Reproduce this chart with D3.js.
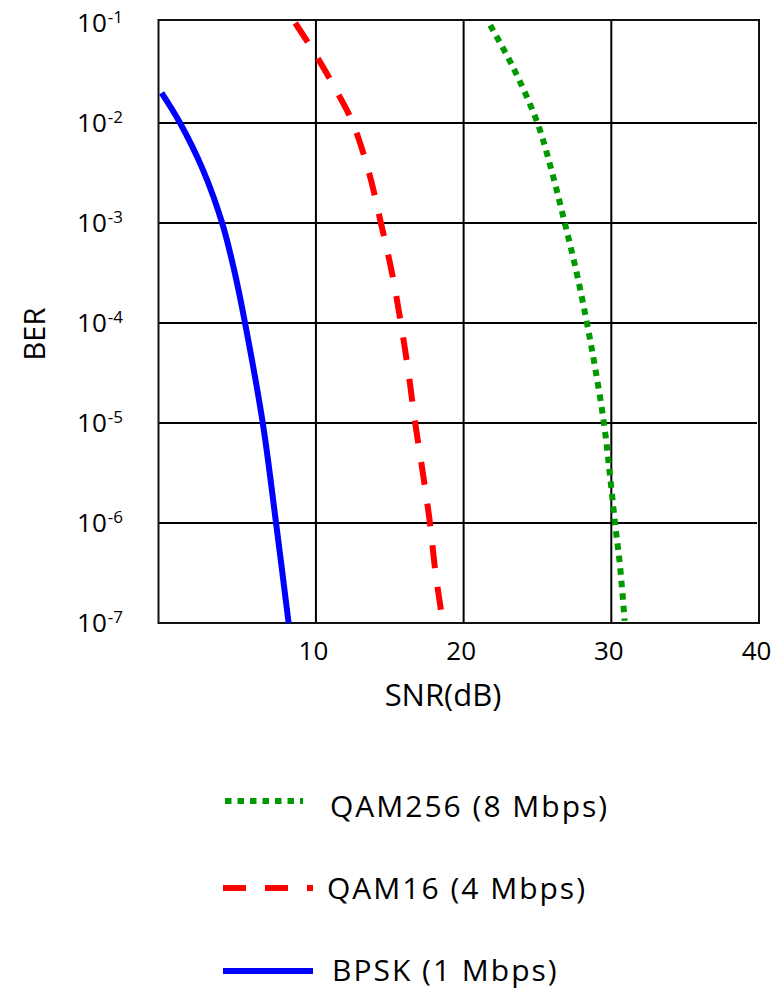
<!DOCTYPE html>
<html>
<head>
<meta charset="utf-8">
<script src="https://cdn.jsdelivr.net/npm/d3@7"></script>
<style>
  html, body { margin: 0; padding: 0; background: #fff; }
  svg { display: block; font-family: "Open Sans", "Noto Sans", sans-serif; }
</style>
</head>
<body>
<svg id="chart" width="784" height="990"></svg>
<script>
// ---- data ----
const snrTicks = [10, 20, 30, 40];
const berTicks = [1e-1, 1e-2, 1e-3, 1e-4, 1e-5, 1e-6, 1e-7];
const berExponents = ["-1", "-2", "-3", "-4", "-5", "-6", "-7"];
const gridBer = [1e-2, 1e-3, 1e-4, 1e-5, 1e-6];
const gridSnr = [10, 20, 30];

const seriesNames = ["QAM256 (8 Mbps)", "QAM16 (4 Mbps)", "BPSK (1 Mbps)"];

const bpskSnr = [-0.45, 0.8, 2.35, 3.65, 4.5, 5.2, 6.4, 7.3, 8.15];
const bpskBer = [2e-2, 1e-2, 3.4e-3, 1e-3, 3.2e-4, 1e-4, 1e-5, 1e-6, 1e-7];

const qam16Snr = [8.6, 10.1, 11.55, 12.5, 13.6, 14.4, 15.15, 15.75, 16.27, 16.72, 17.24, 17.72, 18.1, 18.6];
const qam16Ber = [0.1, 0.045, 0.019, 1e-2, 3.16e-3, 1e-3, 3.16e-4, 1e-4, 3.16e-5, 1e-5, 3.16e-6, 1e-6, 3.16e-7, 1e-7];

const qam256Snr = [21.8, 23.35, 25.0, 26.0, 26.85, 27.65, 28.35, 28.9, 29.5, 29.9, 30.25, 30.6, 30.9];
const qam256Ber = [0.095, 0.036, 1e-2, 3.16e-3, 1e-3, 3.2e-4, 1e-4, 3.6e-5, 1e-5, 3.1e-6, 1e-6, 3.6e-7, 1.05e-7];

(function () {
// ---- styles ----
const styles = {
  "QAM256 (8 Mbps)": { color: "#009a00", dash: "6.5,6" },
  "QAM16 (4 Mbps)":  { color: "#ff0000", dash: "23,19" },
  "BPSK (1 Mbps)":   { color: "#0000ff", dash: null }
};

const seriesData = {
  "QAM256 (8 Mbps)": qam256Snr.map((s, i) => ({ snr: s, ber: qam256Ber[i] })),
  "QAM16 (4 Mbps)":  qam16Snr.map((s, i) => ({ snr: s, ber: qam16Ber[i] })),
  "BPSK (1 Mbps)":   bpskSnr.map((s, i) => ({ snr: s, ber: bpskBer[i] }))
};

// ---- layout ----
const pL = 158.5, pR = 759, pT = 20, pB = 623;
const svg = d3.select("#chart");

const x = d3.scaleLinear().domain([-0.66, 40]).range([pL, pR]);
const y = d3.scaleLog().domain([1e-7, Math.pow(10, -0.97)]).range([pB, pT]);

// grid
svg.append("g").selectAll("line").data(gridBer).join("line")
  .attr("x1", pL).attr("x2", pR - 2)
  .attr("y1", d => y(d)).attr("y2", d => y(d))
  .attr("stroke", "#000").attr("stroke-width", 2);

svg.append("g").selectAll("line").data(gridSnr).join("line")
  .attr("x1", d => x(d)).attr("x2", d => x(d))
  .attr("y1", pT).attr("y2", pB + 1)
  .attr("stroke", "#000").attr("stroke-width", 2);

// frame
svg.append("rect")
  .attr("x", pL).attr("y", pT)
  .attr("width", pR - pL).attr("height", pB - pT)
  .attr("fill", "none").attr("stroke", "#111").attr("stroke-width", 2);

// curves
const line = d3.line().x(d => x(d.snr)).y(d => y(d.ber)).curve(d3.curveCatmullRom.alpha(0.5));
seriesNames.slice().reverse().forEach(name => {
  const st = styles[name];
  svg.append("path")
    .datum(seriesData[name])
    .attr("d", line)
    .attr("fill", "none")
    .attr("stroke", st.color)
    .attr("stroke-width", 6)
    .attr("stroke-dasharray", st.dash)
    .attr("stroke-linecap", "butt");
});

// x axis labels
const xAxis = d3.axisBottom(x).tickValues(snrTicks).tickSize(0).tickFormat(d3.format("d"));
const gx = svg.append("g").attr("transform", `translate(0,${pB})`).call(xAxis);
gx.select(".domain").remove();
gx.selectAll("text")
  .attr("font-family", "'Open Sans', sans-serif")
  .attr("font-size", 26).attr("fill", "#000")
  .attr("x", -3).attr("y", 37).attr("dy", null);

// y axis labels
const gy = svg.append("g");
const yl = gy.selectAll("text").data(berTicks).join("text")
  .attr("text-anchor", "end")
  .attr("x", 123)
  .attr("y", d => y(d) + 8.5)
  .attr("font-size", 26).attr("fill", "#000");
yl.append("tspan").text("10");
yl.append("tspan").attr("font-size", 17).attr("dy", -8.5).attr("dx", 1)
  .text((d, i) => berExponents[i]);

// axis titles
svg.append("text")
  .attr("x", 443).attr("y", 706)
  .attr("text-anchor", "middle")
  .attr("font-size", 31).attr("fill", "#000")
  .text("SNR(dB)");

svg.append("text")
  .attr("transform", "translate(45,334) rotate(-90)")
  .attr("text-anchor", "middle")
  .attr("font-size", 29).attr("fill", "#000")
  .text("BER");

// legend
const legendLineY = [801, 888, 971];
const legendTextY = [817, 899, 981];
const legendTextX = [330, 327, 332];
const legendLineX = [[225, 303], [223, 313], [223, 313]];
seriesNames.forEach((name, i) => {
  const st = styles[name];
  svg.append("line")
    .attr("x1", legendLineX[i][0]).attr("x2", legendLineX[i][1])
    .attr("y1", legendLineY[i]).attr("y2", legendLineY[i])
    .attr("stroke", st.color).attr("stroke-width", 6)
    .attr("stroke-dasharray", st.dash);
  svg.append("text")
    .attr("x", legendTextX[i]).attr("y", legendTextY[i])
    .attr("font-size", 30).attr("fill", "#000")
    .attr("letter-spacing", 2)
    .text(name);
});
})();
</script>
</body>
</html>
